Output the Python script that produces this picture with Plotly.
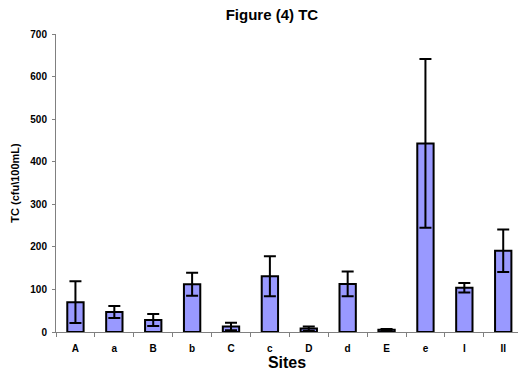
import plotly.graph_objects as go

sites = ["A", "a", "B", "b", "C", "c", "D", "d", "E", "e", "I", "II"]
tc_mean = [70, 47, 28, 112, 13, 131, 8, 113, 5, 443, 104, 191]
tc_err = [49, 14, 14, 27, 9, 47, 5, 29, 2, 198, 11, 50]
y_ticks = [0, 100, 200, 300, 400, 500, 600, 700]

fig = go.Figure()
fig.add_trace(go.Bar(
    x=sites, y=tc_mean, width=0.42,
    marker=dict(color="#9999FF", line=dict(color="black", width=2)),
    error_y=dict(type="data", array=tc_err, visible=True, color="black",
                 thickness=2, width=6),
))

fig.update_layout(
    width=518, height=374,
    margin=dict(l=56, r=0, t=34, b=42),
    paper_bgcolor="white", plot_bgcolor="white",
    font=dict(family="Liberation Sans, Arial", color="black"),
    title=dict(text="Figure (4) TC", x=0.525, xanchor="center", y=0.96, yanchor="middle",
               font=dict(size=15, weight="bold")),
    showlegend=False,
    xaxis=dict(
        type="category", range=[-0.5, 11.38], tickson="boundaries",
        ticks="outside", ticklen=4, tickcolor="#808080",
        showline=True, linecolor="#808080", linewidth=1, showgrid=False,
        tickfont=dict(size=10, weight="bold"), ticklabelstandoff=7,
        title=dict(text="Sites", font=dict(size=16, weight="bold"), standoff=1),
    ),
    yaxis=dict(
        range=[0, 700], tickvals=y_ticks, ticks="outside", ticklen=3, tickcolor="#808080",
        showline=True, linecolor="#808080", linewidth=1, showgrid=False, zeroline=False,
        tickfont=dict(size=10, weight="bold"), ticklabelstandoff=3,
        title=dict(text="TC (cfu\\100mL)", font=dict(size=11, weight="bold"), standoff=8),
    ),
)

fig.write_html("out.html")
